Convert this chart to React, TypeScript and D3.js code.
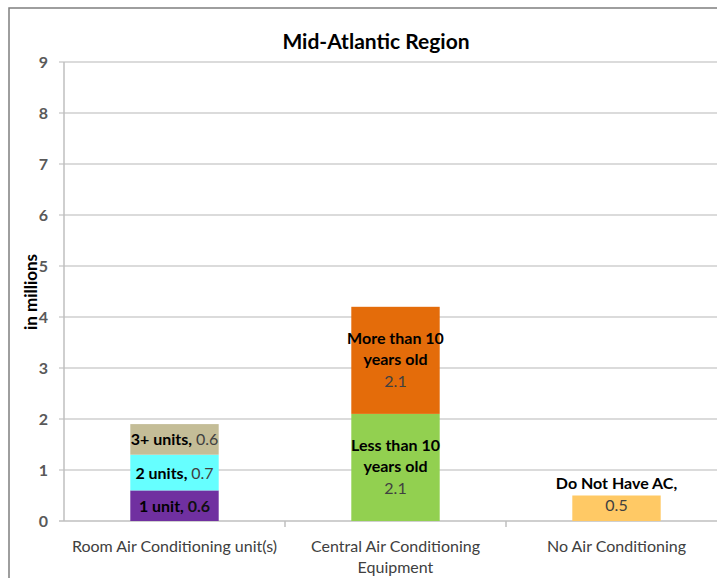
import React from "react";
import * as d3 from "d3";

const categories = ["Room Air Conditioning unit(s)", "Central Air Conditioning\nEquipment", "No Air Conditioning"];
const segmentNames = [
  ["1 unit", "2 units", "3+ units"],
  ["Less than 10\nyears old", "More than 10\nyears old"],
  ["Do Not Have AC"],
];
const segmentValues = [
  [0.6, 0.7, 0.6],
  [2.1, 2.1],
  [0.5],
];
const segmentColors = [
  ["#7030a0", "#66ffff", "#c4bd97"],
  ["#92d050", "#e46c0a"],
  ["#ffc965"],
];
const yTicks = [0, 1, 2, 3, 4, 5, 6, 7, 8, 9];

const W = 717, H = 578;
const left = 64, right = 727, top = 62, bottom = 521;
const font = "Lato, 'Open Sans', sans-serif";

export default function App() {
  const y = d3.scaleLinear().domain([0, 9]).range([bottom, top]);
  const x = d3.scaleBand().domain(categories).range([left, right]).paddingInner(0.6).paddingOuter(0.3);
  const bandStep = x.step();
  return (
    <svg width={W} height={H} style={{ position: "absolute", left: 0, top: 0, background: "#fff" }}>
      <rect x={9} y={8} width={W} height={H} fill="#fff" stroke="#7f7f7f" strokeWidth={1.5} />
      <text x={376} y={49} textAnchor="middle" fontFamily={font} fontWeight="bold" fontSize={21} fill="#000">Mid-Atlantic Region</text>
      {yTicks.map((t) => (
        <g key={t}>
          <line x1={left - 5} x2={right} y1={y(t)} y2={y(t)} stroke={t === 0 ? "#bfbfbf" : "#cfcfcf"} strokeWidth={1.5} />
          <text x={48} y={y(t) + 6} textAnchor="end" fontFamily={font} fontWeight="bold" fontSize={16} fill="#595959">{t}</text>
        </g>
      ))}
      <line x1={left} x2={left} y1={top} y2={bottom} stroke="#bfbfbf" strokeWidth={1.5} />
      {categories.map((c, i) => (
        <line key={"tk" + i} x1={left + bandStep * (i + 1)} x2={left + bandStep * (i + 1)} y1={bottom} y2={bottom + 6} stroke="#bfbfbf" strokeWidth={1.5} />
      ))}
      <text transform={`translate(37,${292}) rotate(-90)`} textAnchor="middle" fontFamily={font} fontWeight="bold" fontSize={17} fill="#000">in millions</text>
      {categories.map((c, i) => {
        let acc = 0;
        const bx = x(c)!;
        const bw = x.bandwidth();
        const cx = bx + bw / 2;
        return (
          <g key={c}>
            {segmentValues[i].map((v, j) => {
              const y0 = y(acc), y1 = y(acc + v);
              acc += v;
              const name = segmentNames[i][j];
              const mid = (y0 + y1) / 2;
              let label: React.ReactNode = null;
              if (i === 0) {
                label = (
                  <text x={cx} y={mid + 6} textAnchor="middle" fontFamily={font} fontSize={16} fill="#000">
                    <tspan fontWeight="bold">{name}, </tspan>
                    <tspan fill={j === 0 ? "#111" : "#404040"} fontWeight={j === 0 ? "bold" : "normal"}>{v.toFixed(1)}</tspan>
                  </text>
                );
              } else if (i === 1) {
                const lines = name.split("\n");
                label = (
                  <text x={cx} y={mid - 16} textAnchor="middle" fontFamily={font} fontSize={16} fill="#000">
                    {lines.map((l, k) => (
                      <tspan key={k} x={cx} dy={k === 0 ? 0 : 21} fontWeight="bold">{l}</tspan>
                    ))}
                    <tspan x={cx} dy={22} fill="#404040">{v.toFixed(1)}</tspan>
                  </text>
                );
              } else {
                label = (
                  <text x={cx} y={y1 - 7} textAnchor="middle" fontFamily={font} fontSize={16} fill="#000">
                    <tspan fontWeight="bold">{name},</tspan>
                    <tspan x={cx} dy={22} fill="#404040">{v.toFixed(1)}</tspan>
                  </text>
                );
              }
              return (
                <g key={j}>
                  <rect x={bx} y={y1} width={bw} height={y0 - y1} fill={segmentColors[i][j]} />
                  {label}
                </g>
              );
            })}
            {c.split("\n").map((l, k) => (
              <text key={k} x={cx} y={552 + k * 21} textAnchor="middle" fontFamily={font} fontSize={16} fill="#404040">{l}</text>
            ))}
          </g>
        );
      })}
    </svg>
  );
}
